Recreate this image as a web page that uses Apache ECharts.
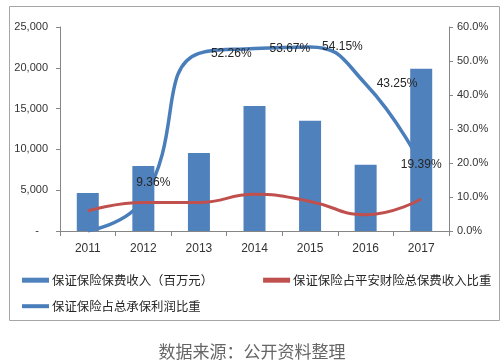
<!DOCTYPE html>
<html>
<head>
<meta charset="utf-8">
<script src="https://cdn.jsdelivr.net/npm/echarts@6/dist/echarts.min.js"></script>
<style>html,body{margin:0;padding:0;background:#fff;}#c{width:504px;height:364px;}</style>
</head>
<body>
<div id="c"></div>
<script>
const categories = ['2011', '2012', '2013', '2014', '2015', '2016', '2017'];
const premiumIncome = [4660, 7970, 9560, 15320, 13520, 8130, 19890];
const shareOfPremium = [5.9, 8.4, 8.4, 10.8, 8.7, 4.8, 9.4];
const shareOfProfit = [0.1, 9.36, 52.26, 53.67, 54.15, 43.25, 19.39];
const profitLabels = ['', '9.36%', '52.26%', '53.67%', '54.15%', '43.25%', '19.39%'];
const seriesNames = ['保证保险保费收入（百万元）', '保证保险占平安财险总保费收入比重', '保证保险占总承保利润比重'];
const sourceText = '数据来源：公开资料整理';

const BAR = '#4F81BD', RED = '#C0504D', LINE = '#4A7EBB';
const labelStyles = [
  { show: false },
  { show: true, position: 'top', distance: 10, offset: [10, 0] },
  { show: true, position: 'right', distance: 12 },
  { show: true, position: 'right', distance: 15 },
  { show: true, position: 'right', distance: 12 },
  { show: true, position: 'right', distance: 11 },
  { show: true, position: 'inside' }
];
const profitData = shareOfProfit.map((v, i) => ({
  value: v,
  label: Object.assign({ formatter: profitLabels[i] }, labelStyles[i])
}));

function fmtThousands(v) {
  if (v === 0) return '-   ';
  return String(v).replace(/\B(?=(\d{3})+(?!\d))/g, ',');
}

const chart = echarts.init(document.getElementById('c'), null, { renderer: 'canvas' });
const axisFont = { color: '#333', fontFamily: 'Liberation Sans, Arial, sans-serif' };
const legendText = { fontSize: 12.4, color: '#262626', fontFamily: 'Noto Sans CJK SC', padding: [0, 0, 0, -2] };
chart.setOption({
  animation: false,
  grid: { left: 60, right: 55, top: 27, bottom: 133, containLabel: false },
  legend: [
    {
      data: [seriesNames[0], seriesNames[1]],
      left: 22, top: 274, padding: 0, itemGap: 50,
      itemWidth: 27, itemHeight: 5, icon: 'rect',
      textStyle: legendText
    },
    {
      data: [seriesNames[2]],
      left: 22, top: 300, padding: 0,
      itemWidth: 27, itemHeight: 4, icon: 'rect',
      textStyle: legendText
    }
  ],
  xAxis: {
    type: 'category', data: categories,
    axisLine: { lineStyle: { color: '#868686' } },
    axisTick: { show: true, length: 5, lineStyle: { color: '#868686' } },
    axisLabel: Object.assign({ fontSize: 12, margin: 12 }, axisFont)
  },
  yAxis: [
    {
      type: 'value', min: 0, max: 25000, interval: 5000,
      splitLine: { show: false },
      axisLine: { show: true, lineStyle: { color: '#868686' } },
      axisTick: { show: true, length: 4, lineStyle: { color: '#868686' } },
      axisLabel: Object.assign({ fontSize: 11, margin: 12, formatter: fmtThousands }, axisFont)
    },
    {
      type: 'value', min: 0, max: 60, interval: 10,
      splitLine: { show: false },
      axisLine: { show: true, lineStyle: { color: '#868686' } },
      axisTick: { show: true, length: 4, lineStyle: { color: '#868686' } },
      axisLabel: Object.assign({ fontSize: 11, margin: 8, formatter: v => v.toFixed(1) + '%' }, axisFont)
    }
  ],
  series: [
    {
      name: seriesNames[2], type: 'line', yAxisIndex: 1, data: shareOfProfit,
      smooth: 0.5, symbol: 'none', z: 1,
      itemStyle: { color: LINE }, lineStyle: { color: LINE, width: 3.5 }
    },
    {
      name: seriesNames[0], type: 'bar', data: premiumIncome, barWidth: 22, z: 2,
      itemStyle: { color: BAR }
    },
    {
      name: seriesNames[1], type: 'line', yAxisIndex: 1, data: shareOfPremium,
      smooth: 0.5, symbol: 'none', z: 3,
      itemStyle: { color: RED }, lineStyle: { color: RED, width: 3 }
    },
    {
      name: 'profitShareLabels', type: 'line', yAxisIndex: 1, data: profitData,
      symbol: 'circle', symbolSize: 0, showSymbol: true, z: 5,
      lineStyle: { opacity: 0, width: 0 }, itemStyle: { color: LINE },
      label: { color: '#262626', fontSize: 12, fontFamily: 'Liberation Sans, Arial, sans-serif' }
    }
  ],
  graphic: [
    {
      type: 'rect', left: 7, top: 4, silent: true,
      shape: { width: 490, height: 314 },
      style: { fill: 'none', stroke: '#a6a6a6', lineWidth: 1 }
    },
    {
      type: 'text', left: 'center', top: 343, silent: true,
      style: { text: sourceText, fontSize: 17, fill: '#666', fontFamily: 'Noto Sans CJK SC' }
    }
  ]
});
</script>
</body>
</html>
